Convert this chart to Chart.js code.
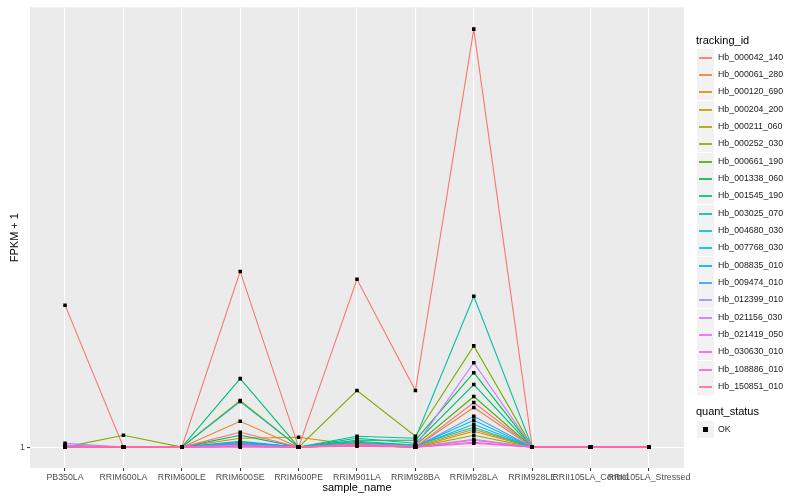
<!DOCTYPE html>
<html>
<head>
<meta charset="utf-8">
<script src="https://cdn.jsdelivr.net/npm/chart.js@4.4.0/dist/chart.umd.min.js"></script>
<style>
  body { margin: 0; background: #fff; font-family: "Liberation Sans", Arial, sans-serif; }
  #wrap { position: relative; width: 800px; height: 500px; }
  #legend { position: absolute; left: 696px; top: 0; width: 104px; font-size: 8.8px; color: #1a1a1a; }
  .ttl { position: absolute; left: 0; font-size: 11px; color: #000; white-space: nowrap; }
  .item { position: absolute; left: 1px; height: 17px; width: 110px; }
  .key { position: absolute; left: 0; top: 0; width: 17px; height: 17px; background: #F2F2F2; }
  .key i { position: absolute; left: 2px; top: 8px; width: 13px; height: 2px; opacity: 0.85; }
  .key b { position: absolute; left: 6px; top: 6px; width: 5px; height: 5px; background: #000; }
  .lab { position: absolute; left: 21px; top: 3px; white-space: nowrap; }
</style>
</head>
<body>
<div id="wrap">
  <canvas id="chart" width="800" height="500"></canvas>
  <div id="legend"></div>
</div>
<script>
var samples = ["PB350LA", "RRIM600LA", "RRIM600LE", "RRIM600SE", "RRIM600PE", "RRIM901LA",
               "RRIM928BA", "RRIM928LA", "RRIM928LE", "RRII105LA_Control", "RRII105LA_Stressed"];
var trackingIds = ["Hb_000042_140", "Hb_000061_280", "Hb_000120_690", "Hb_000204_200", "Hb_000211_060",
                   "Hb_000252_030", "Hb_000661_190", "Hb_001338_060", "Hb_001545_190", "Hb_003025_070",
                   "Hb_004680_030", "Hb_007768_030", "Hb_008835_010", "Hb_009474_010", "Hb_012399_010",
                   "Hb_021156_030", "Hb_021419_050", "Hb_030630_010", "Hb_108886_010", "Hb_150851_010"];
var colours = ["#F8766D", "#EA8331", "#D89000", "#C09B00", "#A3A500", "#7CAE00", "#39B600", "#00BB4E",
               "#00BF7D", "#00C1A3", "#00BFC4", "#00BAE0", "#00B0F6", "#35A2FF", "#9590FF", "#C77CFF",
               "#E76BF3", "#FA62DB", "#FF62BC", "#FF6C91"];
// FPKM + 1, one row per tracking_id, one column per sample
var fpkm = [
  [15.3, 1, 1, 18.7, 1, 17.9, 6.7, 43.1, 1, 1, 1],
  [1, 1, 1, 3.6, 1, 1.3, 1.0, 5.0, 1, 1, 1],
  [1, 1, 1, 1.9, 2.0, 1.2, 1.0, 2.6, 1, 1, 1],
  [1, 1, 1, 5.7, 1, 1.4, 1.1, 2.8, 1, 1, 1],
  [1, 1, 1, 1.3, 1, 1.2, 1.0, 2.2, 1, 1, 1],
  [1, 2.2, 1, 1.4, 1, 6.7, 2.1, 11.2, 1, 1, 1],
  [1, 1, 1, 1.5, 1, 1.5, 1.2, 6.1, 1, 1, 1],
  [1, 1, 1, 2.2, 1, 1.7, 1.7, 8.5, 1, 1, 1],
  [1, 1, 1, 7.9, 1, 1.9, 1.4, 7.3, 1, 1, 1],
  [1, 1, 1, 5.6, 1, 2.1, 1.9, 16.2, 1, 1, 1],
  [1, 1, 1, 1.2, 1, 1.6, 1.2, 3.0, 1, 1, 1],
  [1, 1, 1, 1.5, 1, 1.4, 1.1, 3.3, 1, 1, 1],
  [1, 1, 1, 1.6, 1, 1.3, 1.1, 3.7, 1, 1, 1],
  [1, 1, 1, 1.3, 1, 1.4, 1.0, 4.1, 1, 1, 1],
  [1.2, 1, 1, 1.1, 1, 1.2, 1.0, 1.8, 1, 1, 1],
  [1.4, 1, 1, 1.1, 1, 1.3, 1.1, 9.5, 1, 1, 1],
  [1, 1, 1, 1.2, 1, 1.2, 1.0, 1.7, 1, 1, 1],
  [1, 1, 1, 1.1, 1, 1.3, 1.0, 1.4, 1, 1, 1],
  [1, 1, 1, 1.0, 1, 1.1, 1.0, 1.5, 1, 1, 1],
  [1, 1, 1, 2.5, 1, 1.2, 1.0, 5.5, 1, 1, 1]
];
var yTicks = [1];

var datasets = trackingIds.map(function(id, k) {
  return {
    label: id,
    data: fpkm[k].map(function(v, i) { return {x: i, y: v}; }),
    borderColor: colours[k],
    borderWidth: 1.1,
    pointRadius: 0,
    fill: false,
    tension: 0,
    order: 30 - k
  };
});
// all points on top, like geom_point after geom_line
var pts = [];
fpkm.forEach(function(row) { row.forEach(function(v, i) { pts.push({x: i, y: v}); }); });
datasets.push({
  label: "OK", data: pts, showLine: false, pointStyle: "rect",
  pointRadius: 2.5, pointBackgroundColor: "#000", pointBorderWidth: 0, order: -1
});

var panelBg = {
  id: "panelBg",
  beforeDraw: function(c) {
    var a = c.chartArea, ctx = c.ctx;
    ctx.save();
    ctx.fillStyle = "#EBEBEB";
    ctx.fillRect(a.left, a.top, a.right - a.left, a.bottom - a.top);
    ctx.restore();
  }
};

new Chart(document.getElementById("chart"), {
  type: "line",
  data: { datasets: datasets },
  plugins: [panelBg],
  options: {
    responsive: false,
    animation: false,
    layout: { padding: { left: 0, right: 116, top: 5, bottom: 0 } },
    plugins: { legend: { display: false }, tooltip: { enabled: false } },
    scales: {
      x: {
        type: "linear", min: -0.6, max: 10.6,
        afterBuildTicks: function(s) { s.ticks = samples.map(function(c, i) { return {value: i}; }); },
        afterFit: function(s) { s.height = 32; },
        grid: { color: "#FFFFFF", lineWidth: 1.1, tickLength: 3, tickColor: "#333333", tickWidth: 1 },
        border: { display: false },
        ticks: {
          autoSkip: false, maxRotation: 0, padding: 1, color: "#4D4D4D",
          font: { family: "Liberation Sans", size: 8.8 },
          callback: function(v) { return samples[v]; }
        },
        title: { display: true, text: "sample_name", color: "#000", padding: { top: 0, bottom: 5 },
                 font: { family: "Liberation Sans", size: 11 } }
      },
      y: {
        type: "linear", min: -1.1, max: 45.3,
        afterBuildTicks: function(s) { s.ticks = yTicks.map(function(v) { return {value: v}; }); },
        afterFit: function(s) { s.width = 30; },
        grid: { color: "#FFFFFF", lineWidth: 1.1, tickLength: 3, tickColor: "#333333", tickWidth: 1 },
        border: { display: false },
        ticks: { padding: 2, color: "#4D4D4D", font: { family: "Liberation Sans", size: 8.8 } },
        title: { display: true, text: "FPKM + 1", color: "#000", padding: { top: 8, bottom: 0 },
                 font: { family: "Liberation Sans", size: 11 } }
      }
    }
  }
});

// ggplot-style legend at the right
var lg = document.getElementById("legend");
var html = '<div class="ttl" style="top:34px">tracking_id</div>';
trackingIds.forEach(function(id, k) {
  var top = Math.round(48.5 + k * 17.35);
  html += '<div class="item" style="top:' + top + 'px"><div class="key"><i style="background:' + colours[k] +
          '"></i></div><span class="lab">' + id + '</span></div>';
});
html += '<div class="ttl" style="top:405px">quant_status</div>';
html += '<div class="item" style="top:421px"><div class="key"><b></b></div><span class="lab">OK</span></div>';
lg.innerHTML = html;
</script>
</body>
</html>
